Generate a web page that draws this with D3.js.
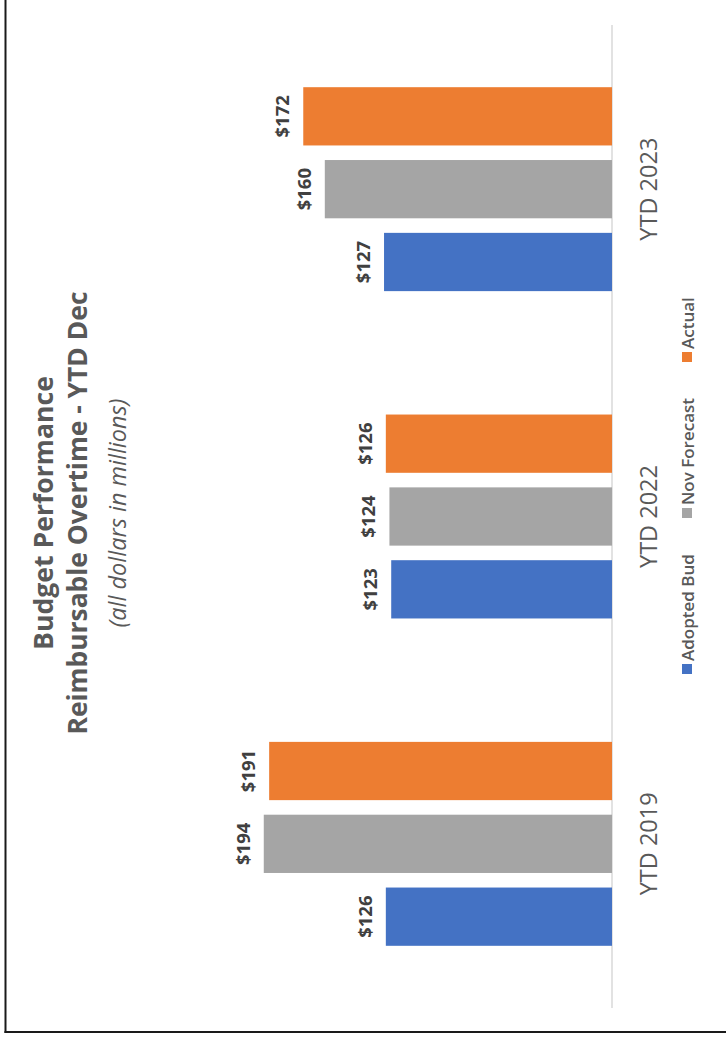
<!DOCTYPE html>
<html>
<head>
<meta charset="utf-8">
<script src="https://cdn.jsdelivr.net/npm/d3@7"></script>
<style>
  html, body { margin: 0; padding: 0; background: #fff; }
  svg { display: block; font-family: "Open Sans", sans-serif; }
</style>
</head>
<body>
<svg id="chart" width="726" height="1038"></svg>
<script>
// ---- data ----
const categories = ["YTD 2019", "YTD 2022", "YTD 2023"];
const seriesNames = ["Adopted Bud", "Nov Forecast", "Actual"];
const adoptedBud = [126, 123, 127];
const novForecast = [194, 124, 160];
const actual = [191, 126, 172];
const colors = ["#4472C4", "#A5A5A5", "#ED7D31"];
const titleLines = ["Budget Performance", "Reimbursable Overtime - YTD Dec"];
const subtitle = "(all dollars in millions)";

const seriesValues = [adoptedBud, novForecast, actual];
const rows = categories.map((c, i) => ({
  cat: c,
  vals: seriesNames.map((s, j) => ({ key: s, value: seriesValues[j][i], color: colors[j] }))
}));

const W = 726, H = 1038;
const svg = d3.select("#chart");

// frame (left & bottom border)
svg.append("line").attr("x1", 5.5).attr("y1", 0).attr("x2", 5.5).attr("y2", 1033)
  .attr("stroke", "#1a1a1a").attr("stroke-width", 2);
svg.append("line").attr("x1", 4.5).attr("y1", 1032).attr("x2", W).attr("y2", 1032)
  .attr("stroke", "#1a1a1a").attr("stroke-width", 2);

// rotated chart frame: virtual x -> screen up, virtual y -> screen right
const g = svg.append("g").attr("transform", `translate(0,${H}) rotate(-90)`);

const x0 = d3.scaleBand().domain(categories).range([30, 1013])
  .paddingInner(0.377).paddingOuter(0.19);
const x1 = d3.scaleBand().domain(seriesNames).range([0, x0.bandwidth()]).paddingInner(0.2);
const y = d3.scaleLinear().domain([0, 200]).range([612, 253]);

// category axis baseline
g.append("line").attr("x1", 30).attr("x2", 1013).attr("y1", y(0)).attr("y2", y(0))
  .attr("stroke", "#D9D9D9").attr("stroke-width", 1.5);

const groups = g.selectAll("g.cat").data(rows).join("g")
  .attr("class", "cat")
  .attr("transform", d => `translate(${x0(d.cat)},0)`);

groups.selectAll("rect").data(d => d.vals).join("rect")
  .attr("x", d => x1(d.key))
  .attr("width", x1.bandwidth())
  .attr("y", d => y(d.value))
  .attr("height", d => y(0) - y(d.value))
  .attr("fill", d => d.color);

groups.selectAll("text.val").data(d => d.vals).join("text")
  .attr("class", "val")
  .attr("x", d => x1(d.key) + x1.bandwidth() / 2)
  .attr("y", d => y(d.value) - 14)
  .attr("text-anchor", "middle")
  .attr("font-weight", "bold")
  .attr("font-size", 18.5)
  .attr("fill", "#404040")
  .text(d => "$" + d.value);

// category labels
const xAxis = d3.axisBottom(x0).tickSize(0).tickPadding(0);
const ax = g.append("g").attr("transform", `translate(0,${y(0)})`).call(xAxis);
ax.select(".domain").remove();
ax.selectAll("text")
  .attr("dy", null)
  .attr("y", 45)
  .attr("font-family", "Open Sans, sans-serif")
  .attr("font-size", 23.5)
  .attr("fill", "#595959");

// legend
const legendPos = [364, 520, 676];
const lg = g.selectAll("g.leg").data(seriesNames).join("g")
  .attr("class", "leg")
  .attr("transform", (d, i) => `translate(${legendPos[i]},682)`);
lg.append("rect").attr("width", 10).attr("height", 10).attr("fill", (d, i) => colors[i]);
lg.append("text").attr("x", 13).attr("y", 12)
  .attr("font-size", 17).attr("font-weight", 600).attr("fill", "#595959")
  .text(d => d);

// title
const cx = H - 513;
const tl = g.append("g");
tl.append("text").attr("x", cx).attr("y", 53).attr("text-anchor", "middle")
  .attr("font-size", 26.6).attr("font-weight", "bold").attr("fill", "#595959").text(titleLines[0]);
tl.append("text").attr("x", cx).attr("y", 87).attr("text-anchor", "middle")
  .attr("font-size", 26.4).attr("font-weight", "bold").attr("fill", "#595959").text(titleLines[1]);
tl.append("text").attr("x", cx).attr("y", 126).attr("text-anchor", "middle")
  .attr("font-size", 23.5).attr("font-style", "italic").attr("fill", "#595959").text(subtitle);
</script>
</body>
</html>
